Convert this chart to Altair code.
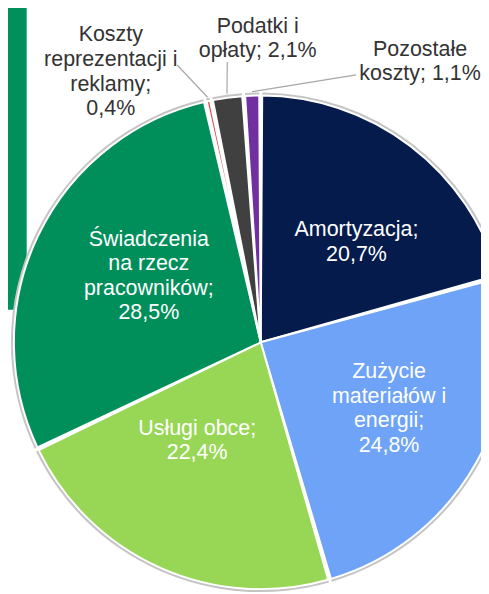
import math
import altair as alt
import pandas as pd

# ---- data ----
categories = [
    "Amortyzacja",
    "Zużycie materiałów i energii",
    "Usługi obce",
    "Świadczenia na rzecz pracowników",
    "Koszty reprezentacji i reklamy",
    "Podatki i opłaty",
    "Pozostałe koszty",
]
values = [20.7, 24.8, 22.4, 28.5, 0.4, 2.1, 1.1]
wrapped_names = [
    "Amortyzacja",
    "Zużycie\nmateriałów i\nenergii",
    "Usługi obce",
    "Świadczenia\nna rzecz\npracowników",
    "Koszty\nreprezentacji i\nreklamy",
    "Podatki i\nopłaty",
    "Pozostałe\nkoszty",
]
value_sep = ["\n", "\n", "\n", "\n", "\n", " ", " "]

# ---- styles / layout ----
colors = ["#041b4b", "#6ea3f7", "#98d755", "#008f5b", "#e04040", "#404040", "#7030a0"]
W, H = 481, 586
CX, CY, R = 257, 335, 251
FONT = "Liberation Sans"
FS, LH = 21.8, 25

# label placement: radius from centre, nudges, colour
label_layout = {
    "Amortyzacja": (141, 12, 10, "white"),
    "Zużycie materiałów i energii": (146, 3, -4, "white"),
    "Usługi obce": (119, -16, -9, "white"),
    "Świadczenia na rzecz pracowników": (133, 6, -10, "white"),
    "Koszty reprezentacji i reklamy": (290, -91, 8, "#333333"),
    "Podatki i opłaty": (290, 36, -22, "#333333"),
    "Pozostałe koszty": (290, 172, 4, "#333333"),
}
leader_ends = {
    "Koszty reprezentacji i reklamy": (172, 53),
    "Podatki i opłaty": (223, 50),
    "Pozostałe koszty": (354, 63),
}

total = sum(values)
rows = []
for i, (c, v, w, s) in enumerate(zip(categories, values, wrapped_names, value_sep)):
    label = f"{w};{s}{str(v).replace('.', ',')}%"
    rows.append({"idx": i, "cat": c, "value": v, "label": label,
                 "nlines": label.count("\n") + 1})
df = pd.DataFrame(rows)

# leader lines from slice rim to outside labels
lead_rows = []
cum = 0.0
for c, v in zip(categories, values):
    mid = (cum + v / 2) / total * 2 * math.pi
    cum += v
    if c in leader_ends:
        ex, ey = leader_ends[c]
        lead_rows.append({"x": CX + (R + 4) * math.sin(mid), "y": CY - (R + 4) * math.cos(mid),
                          "x2": ex, "y2": ey})
lead_df = pd.DataFrame(lead_rows)

theta_scale = alt.Scale(domain=[0, total], range=[0, 2 * math.pi])
color_scale = alt.Scale(domain=categories, range=colors)

base = alt.Chart(df)

decor = alt.Chart(alt.Data(values=[{"a": 1}])).mark_rect(
    color="#00905c", cornerRadiusBottomRight=28
).encode(x=alt.value(-10), x2=alt.value(19), y=alt.value(-10), y2=alt.value(302))

pie_enc = dict(
    theta=alt.Theta("value:Q", stack=True, scale=theta_scale),
    order=alt.Order("idx:Q", sort="ascending"),
    x=alt.value(CX),
    y=alt.value(CY),
)

rim = base.mark_arc(radius=R + 3, padAngle=0.012).encode(
    color=alt.value("#c4c4c4"), **pie_enc
)
arcs = base.mark_arc(radius=R, padAngle=0.012, stroke="white", strokeWidth=2).encode(
    color=alt.Color("cat:N", scale=color_scale, legend=None), **pie_enc
)

leaders = alt.Chart(lead_df).mark_rule(color="#a6a6a6", strokeWidth=1.2).encode(
    x=alt.X("x:Q", scale=None, axis=None),
    y=alt.Y("y:Q", scale=None, axis=None),
    x2="x2:Q",
    y2="y2:Q",
)

lab_base = base.transform_window(
    cum="sum(value)", sort=[alt.SortField("idx", order="ascending")], frame=[None, 0]
).transform_calculate(mid="datum.cum - datum.value / 2")

labels = []
for c, (r, dx, dy, col) in label_layout.items():
    n = int(df.loc[df["cat"] == c, "nlines"].iloc[0])
    labels.append(
        lab_base.transform_filter(alt.datum.cat == c).mark_text(
            radius=r, dx=dx, dy=dy - (n - 1) * LH / 2, color=col, font=FONT, fontSize=FS,
            lineHeight=LH, lineBreak="\n", align="center", baseline="middle",
        ).encode(
            theta=alt.Theta("mid:Q", scale=theta_scale, stack=False),
            text="label:N",
            x=alt.value(CX),
            y=alt.value(CY),
        )
    )

chart = alt.layer(decor, rim, arcs, leaders, *labels).properties(
    width=W, height=H, autosize=alt.AutoSizeParams(type="none"), padding=0,
    background="white",
).configure_view(strokeWidth=0)

chart.save("out.html", embed_options={"renderer": "svg", "actions": False})
